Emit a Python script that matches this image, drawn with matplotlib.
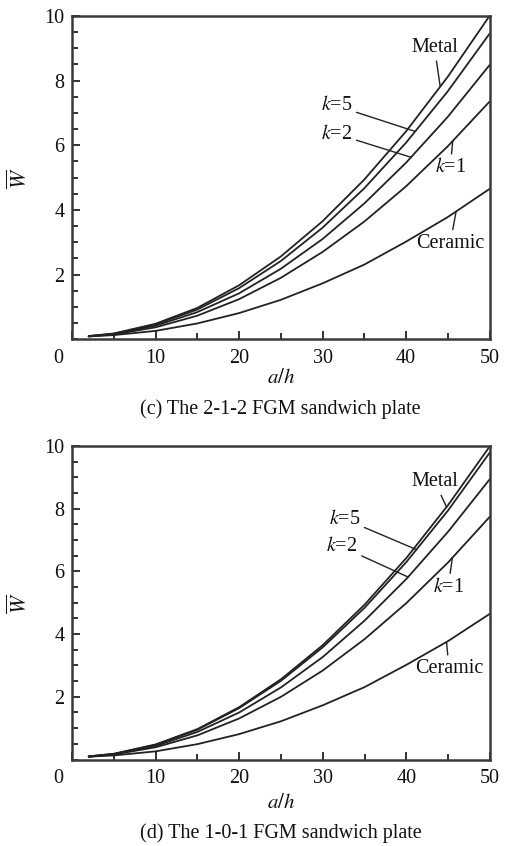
import numpy as np
import matplotlib
matplotlib.use("Agg")
import matplotlib.pyplot as plt
import matplotlib.transforms as mtransforms
from matplotlib.ticker import MultipleLocator, FixedLocator

plt.rcParams['font.family'] = ['Liberation Serif', 'DejaVu Serif']
plt.rcParams['mathtext.fontset'] = 'stix'

# Side-to-thickness ratio a/h
a_h = [2, 5, 10, 15, 20, 25, 30, 35, 40, 45, 50]

# Dimensionless deflection, homogeneous plates (same in both panels)
w_metal = [0.10, 0.18, 0.48, 0.97, 1.67, 2.56, 3.65, 4.94, 6.43, 8.12, 10.00]
w_ceramic = [0.09, 0.13, 0.26, 0.49, 0.81, 1.22, 1.73, 2.31, 3.02, 3.78, 4.65]

# (c) 2-1-2 sandwich plate
c_k5 = [0.10, 0.17, 0.46, 0.92, 1.58, 2.42, 3.45, 4.67, 6.08, 7.67, 9.45]
c_k2 = [0.09, 0.16, 0.42, 0.84, 1.42, 2.18, 3.10, 4.20, 5.46, 6.88, 8.48]
c_k1 = [0.09, 0.15, 0.37, 0.73, 1.24, 1.90, 2.70, 3.64, 4.73, 5.97, 7.35]

# (d) 1-0-1 sandwich plate
d_k5 = [0.10, 0.18, 0.47, 0.95, 1.64, 2.51, 3.58, 4.84, 6.30, 7.95, 9.80]
d_k2 = [0.09, 0.17, 0.43, 0.88, 1.50, 2.30, 3.27, 4.43, 5.76, 7.27, 8.95]
d_k1 = [0.09, 0.16, 0.39, 0.77, 1.31, 2.00, 2.84, 3.84, 4.99, 6.29, 7.75]

curve_names = ["Metal", "$k$=5", "$k$=2", "$k$=1", "Ceramic"]
panel_c = [w_metal, c_k5, c_k2, c_k1, w_ceramic]
panel_d = [w_metal, d_k5, d_k2, d_k1, w_ceramic]

x_ticks = [0, 10, 20, 30, 40, 50]
y_ticks = [2, 4, 6, 8, 10]

captions = ["(c) The 2-1-2 FGM sandwich plate", "(d) The 1-0-1 FGM sandwich plate"]

# label placement: (text x, text y, leader end x on curve)
place_c = [(43.4, 9.03, 44.1), (31.7, 7.22, 41.1), (31.7, 6.35, 40.6),
           (45.3, 5.31, 45.6), (45.3, 2.97, 46.0)]
place_d = [(43.4, 8.86, 44.8), (32.6, 7.67, 41.2), (32.3, 6.78, 40.2),
           (45.0, 5.50, 45.5), (45.1, 2.90, 44.8)]

W, H = 506, 846
fig = plt.figure(figsize=(W / 100, H / 100), dpi=100)

ink = "#222222"
fs = 14.5


def make_panel(rect, series, places, caption, ylab_y, xlab_y, cap_y):
    ax = fig.add_axes(rect)
    for vals in series:
        ax.plot(a_h, vals, color=ink, lw=1.3, solid_capstyle='round')
    for name, vals, (tx, ty, ex) in zip(curve_names, series, places):
        ey = float(np.interp(ex, a_h, vals))
        ax.annotate(name, xy=(ex, ey), xytext=(tx, ty), ha='center', va='center',
                    fontsize=fs, color='#111111',
                    arrowprops=dict(arrowstyle='-', color=ink, lw=1.0,
                                    shrinkA=1, shrinkB=0))
    ax.set_xlim(0, 50)
    ax.set_ylim(0, 10)
    ax.xaxis.set_major_locator(FixedLocator(x_ticks))
    ax.xaxis.set_minor_locator(MultipleLocator(5))
    ax.yaxis.set_major_locator(FixedLocator(y_ticks))
    ax.yaxis.set_minor_locator(MultipleLocator(0.5))
    ax.set_xticklabels([str(t) for t in x_ticks])
    ax.set_yticklabels([str(t) for t in y_ticks])
    ax.tick_params(which='both', direction='in', top=False, right=False,
                   color=ink, width=1.3, labelsize=fs, labelcolor='#111111')
    ax.tick_params(which='major', length=6)
    ax.tick_params(which='minor', length=4)
    ax.tick_params(axis='x', pad=7)
    ax.tick_params(axis='y', pad=5.5)
    for sp in ax.spines.values():
        sp.set_linewidth(1.8)
        sp.set_color('#3a3a3a')
    # shift the origin label to the left of the corner
    first = ax.get_xticklabels()[0]
    first.set_transform(first.get_transform() +
                        mtransforms.ScaledTranslation(-0.14, 0, fig.dpi_scale_trans))
    fig.text(20 / W, 1 - ylab_y / H, r"$\overline{W}$", rotation=90,
             ha='center', va='center', fontsize=fs + 1, color='#111111')
    cx = (rect[0] + rect[0] + rect[2]) / 2
    fig.text(cx, 1 - xlab_y / H, "$a/h$", ha='center', va='center',
             fontsize=fs + 0.5, color='#111111')
    fig.text(cx, 1 - cap_y / H, caption, ha='center', va='center',
             fontsize=14.5, color='#111111')
    return ax


make_panel([72 / W, 1 - 339.3 / H, (489.5 - 72) / W, (339.3 - 16) / H],
           panel_c, place_c, captions[0], 178, 378, 409)
make_panel([72 / W, 1 - 759.5 / H, (490 - 72) / W, (759.5 - 446) / H],
           panel_d, place_d, captions[1], 603, 803, 833)

fig.savefig("out.png", dpi=100)
